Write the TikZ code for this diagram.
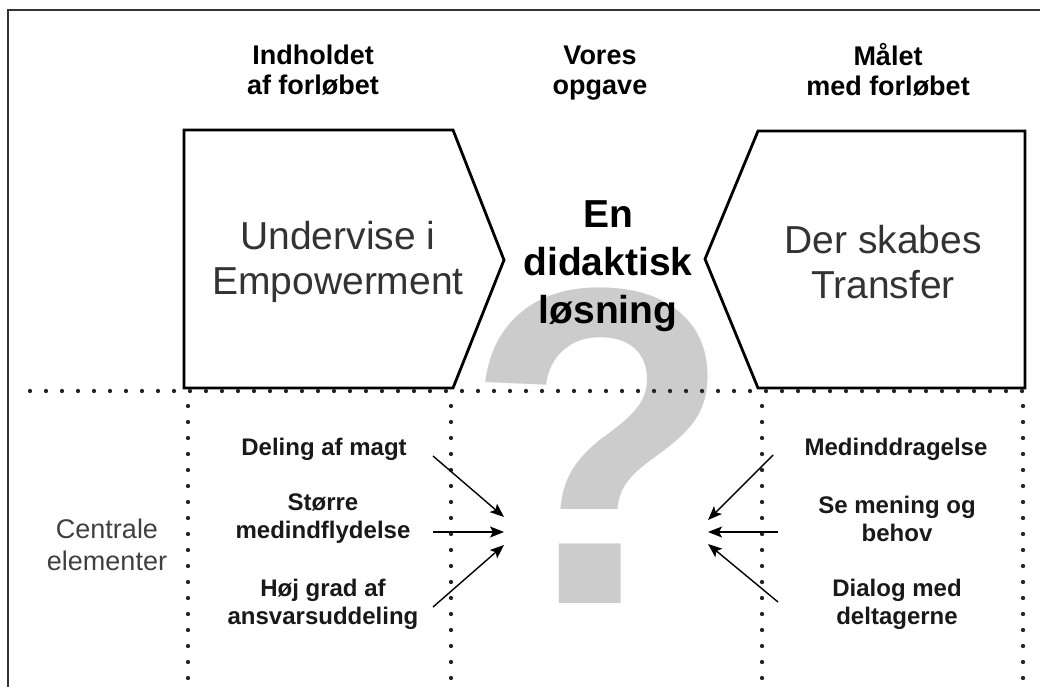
\documentclass[tikz,border=0pt]{standalone}
\usepackage{fontspec}
\setmainfont{Liberation Sans}
\usetikzlibrary{arrows.meta}
\begin{document}
\begin{tikzpicture}[x=1pt,y=-1pt,
  frame/.style={line width=2pt, draw=black!80},
  chev/.style={line width=2.8pt, draw=black, line join=miter},
  dots/.style={line width=4.3pt, line cap=round, dash pattern=on 0pt off 16pt, draw=black!85},
  title/.style={font=\fontsize{27}{30}\selectfont\bfseries, align=center, inner sep=0},
  big/.style={font=\fontsize{39}{45}\selectfont, align=center, text=black!80, inner sep=0},
  mid/.style={font=\fontsize{39}{48}\selectfont\bfseries, align=center, inner sep=0},
  lab/.style={font=\fontsize{24}{28}\selectfont\bfseries, align=center, inner sep=0, text=black!90},
  side/.style={font=\fontsize{27}{32}\selectfont, align=center, inner sep=0, text=black!75},
  arr/.style={line width=1.4pt, -{Stealth[length=14pt,width=11pt,inset=3pt]}}
]
\useasboundingbox (0,0) rectangle (1040,686);
% frame
\draw[frame] (8,687) -- (8,10) -- (1041,10);
% question mark
\node[text=black!20, font=\fontsize{452}{452}\selectfont\bfseries, inner sep=0, anchor=base, xscale=0.97] (qm) at (599,603) {?};
% chevrons
\draw[chev] (184,130) -- (453,130) -- (504,260) -- (453,388) -- (184,388) -- cycle;
\draw[chev] (1025,131) -- (758,131) -- (705,259) -- (758,388) -- (1025,388) -- cycle;
% dotted lines
\draw[dots] (30,391) -- (1026,391);
\draw[dots] (188,406) -- (188,690);
\draw[dots] (451,406) -- (451,690);
\draw[dots] (762,406) -- (762,690);
\draw[dots] (1023,406) -- (1023,690);
% titles
\node[title] (t1) at (313,70) {Indholdet\\af forløbet};
\node[title] (t2) at (600,73) {Vores\\opgave};
\node[title] (t3) at (888,70) {Målet\\med forløbet};
% box texts
\node[big] (b1) at (338,262) {Undervise i\\Empowerment};
\node[big] (b2) at (883,262) {Der skabes\\Transfer};
\node[mid] (c) at (608,266) {En\\didaktisk\\løsning};
% lower labels
\node[side] (ce) at (107,545) {Centrale\\elementer};
\node[lab] (l1) at (324,449) {Deling af magt};
\node[lab] (l2) at (323,519) {Større\\medindflydelse};
\node[lab] (l3) at (323,604) {Høj grad af\\ansvarsuddeling};
\node[lab] (r1) at (896,449) {Medinddragelse};
\node[lab] (r2) at (897,519) {Se mening og\\behov};
\node[lab] (r3) at (897,604) {Dialog med\\deltagerne};
% arrows
\coordinate (la1) at (433,456); \coordinate (lb1) at (504,517);
\coordinate (la2) at (433,532); \coordinate (lb2) at (504,532);
\coordinate (la3) at (433,607); \coordinate (lb3) at (504,545);
\coordinate (ra1) at (773,455); \coordinate (rb1) at (708,520);
\coordinate (ra2) at (778,532); \coordinate (rb2) at (708,532);
\coordinate (ra3) at (778,602); \coordinate (rb3) at (708,544);
\draw[arr] (la1) -- (lb1);
\draw[arr] (la2) -- (lb2);
\draw[arr] (la3) -- (lb3);
\draw[arr] (ra1) -- (rb1);
\draw[arr] (ra2) -- (rb2);
\draw[arr] (ra3) -- (rb3);
\end{tikzpicture}
\end{document}
